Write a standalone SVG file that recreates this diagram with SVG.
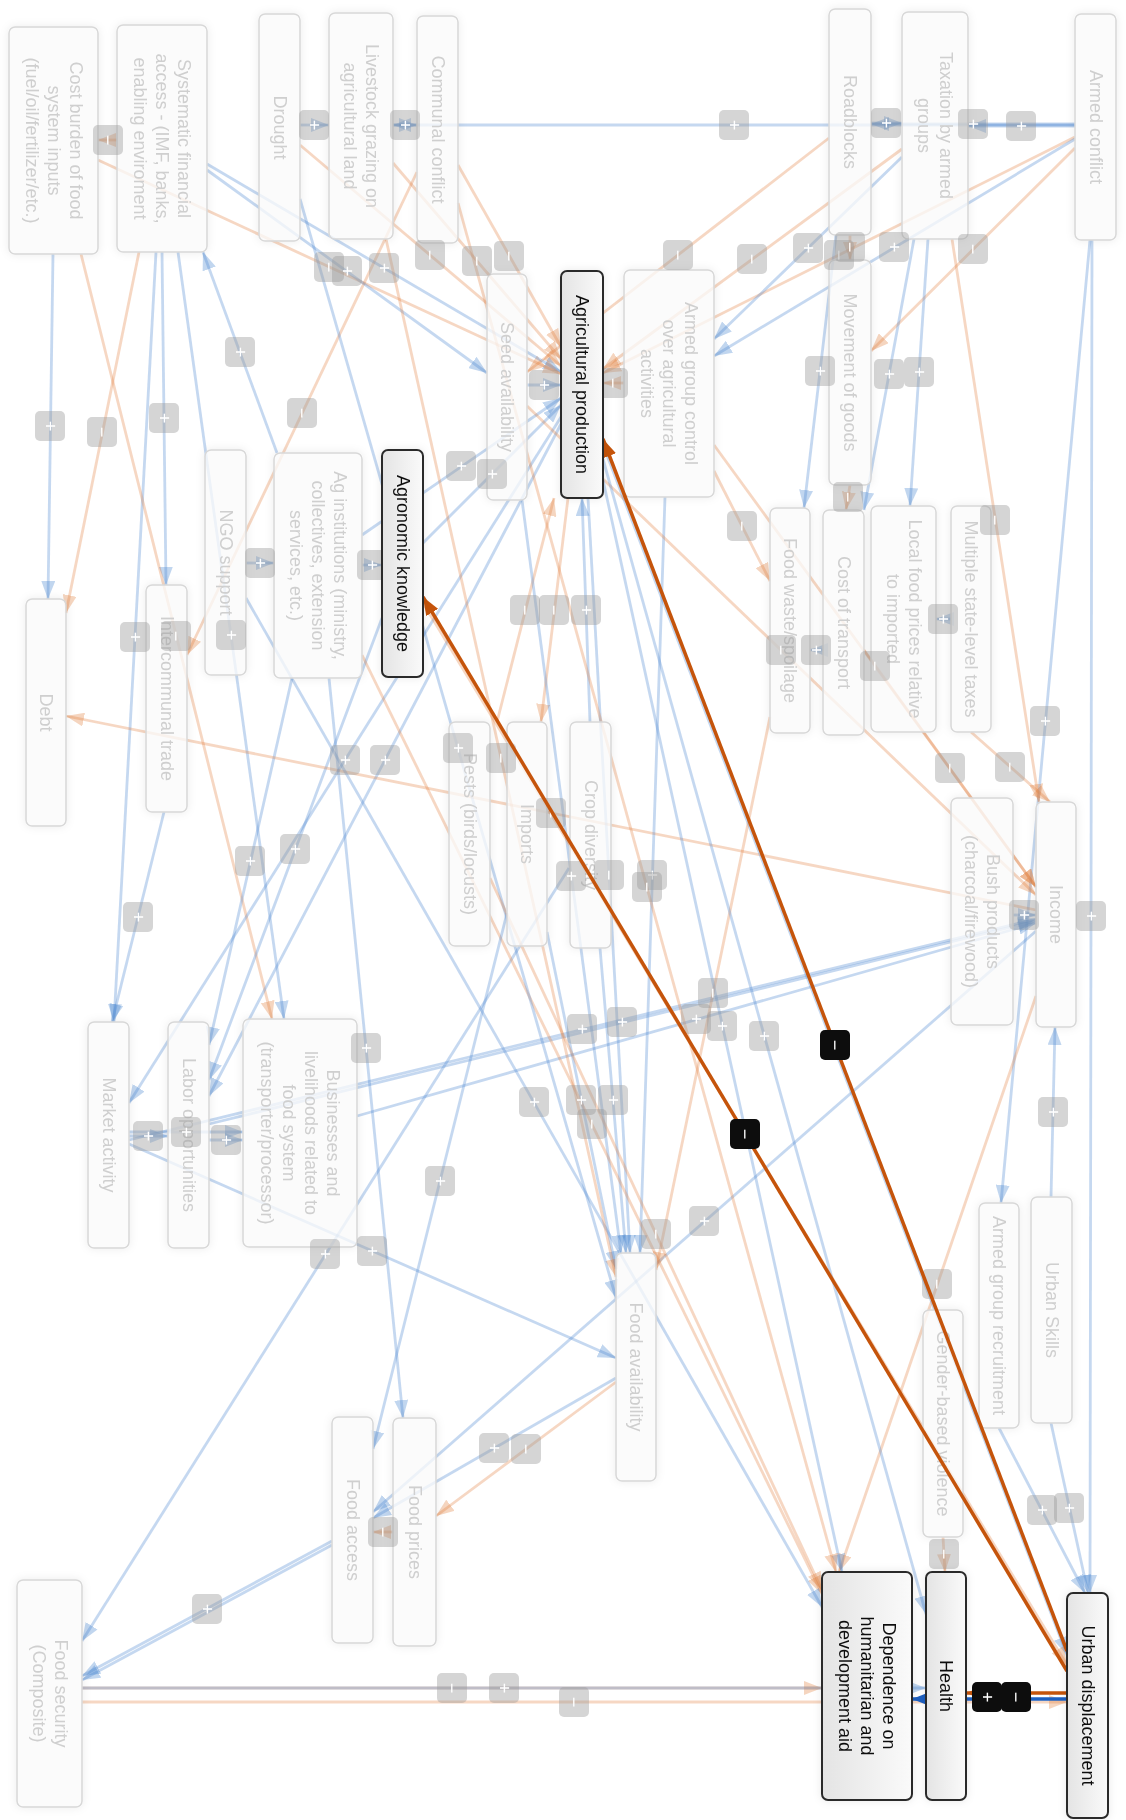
<svg xmlns="http://www.w3.org/2000/svg" width="1126" height="1820" viewBox="0 0 1126 1820">
<defs>
<style>
text{font-family:"Liberation Sans",Arial,sans-serif;font-size:18px;text-anchor:middle}
.n rect{fill:#fcfcfc;fill-opacity:.75;stroke:#d8d8d8;stroke-width:1.5}
.n text{fill:#cfcfcf}
.h rect{fill:url(#hg);stroke:#2b2b2b;stroke-width:2}
.h text{fill:#111}
.e line{fill:none;stroke-width:2.8}
.p{stroke:#4a86d0;stroke-opacity:.32;marker-end:url(#ap)}
.m{stroke:#e07b39;stroke-opacity:.3;marker-end:url(#am)}
.hp{stroke:#1d5fc0;stroke-width:3.5!important;marker-end:url(#hap)}
.hm{stroke:#c5540b;stroke-width:3.5!important;marker-end:url(#ham)}
.lb rect{fill:#9a9a9a;fill-opacity:.42}
.lb text{fill:#fff}
.hl rect{fill:#0d0d0d}
.hl text{fill:#fff}
</style>
<linearGradient id="hg" x1="0" y1="0" x2="1" y2="0">
<stop offset="0" stop-color="#e4e4e4"/><stop offset="1" stop-color="#fafafa"/>
</linearGradient>
<filter id="sh" x="-30%" y="-10%" width="160%" height="120%">
<feDropShadow dx="0" dy="0" stdDeviation="4" flood-color="#000" flood-opacity=".09"/>
</filter>
<marker id="ap" markerUnits="userSpaceOnUse" markerWidth="18" markerHeight="14" viewBox="0 0 18 14" refX="18" refY="7" orient="auto"><path d="M0,0L18,7L0,14z" fill="#4a86d0" fill-opacity=".34"/></marker>
<marker id="am" markerUnits="userSpaceOnUse" markerWidth="18" markerHeight="14" viewBox="0 0 18 14" refX="18" refY="7" orient="auto"><path d="M0,0L18,7L0,14z" fill="#e07b39" fill-opacity=".32"/></marker>
<marker id="hap" markerUnits="userSpaceOnUse" markerWidth="18" markerHeight="14" viewBox="0 0 18 14" refX="18" refY="7" orient="auto"><path d="M0,0L18,7L0,14z" fill="#1d5fc0"/></marker>
<marker id="ham" markerUnits="userSpaceOnUse" markerWidth="18" markerHeight="14" viewBox="0 0 18 14" refX="18" refY="7" orient="auto"><path d="M0,0L18,7L0,14z" fill="#c5540b"/></marker>
</defs>
<rect width="1126" height="1820" fill="#fff"/>

<!-- background causal links -->
<g id="connectors" class="e">
<line class="m" x1="117" y1="140" x2="98" y2="140"/>
<line class="p" x1="300" y1="125" x2="329" y2="125"/>
<line class="p" x1="393" y1="125" x2="417" y2="125"/>
<line class="p" x1="1075" y1="125" x2="393" y2="125"/>
<line class="p" x1="871" y1="123" x2="902" y2="123"/>
<line class="p" x1="1075" y1="124" x2="871" y2="124"/>
<line class="p" x1="1075" y1="126" x2="968" y2="126"/>
<line class="m" x1="300" y1="145" x2="561" y2="366"/>
<line class="m" x1="458" y1="165" x2="561" y2="347"/>
<line class="m" x1="393" y1="163" x2="561" y2="359"/>
<line class="m" x1="624" y1="383" x2="603" y2="383"/>
<line class="p" x1="527" y1="385" x2="561" y2="385"/>
<line class="m" x1="829" y1="138" x2="527" y2="372"/>
<line class="m" x1="902" y1="149" x2="603" y2="369"/>
<line class="m" x1="1075" y1="137" x2="603" y2="373"/>
<line class="p" x1="1075" y1="139" x2="714" y2="356"/>
<line class="p" x1="902" y1="157" x2="714" y2="339"/>
<line class="m" x1="1075" y1="148" x2="871" y2="351"/>
<line class="m" x1="850" y1="235" x2="850" y2="260"/>
<line class="p" x1="836" y1="235" x2="804" y2="508"/>
<line class="p" x1="914" y1="239" x2="864" y2="510"/>
<line class="p" x1="928" y1="239" x2="910" y2="506"/>
<line class="m" x1="850" y1="485" x2="846" y2="510"/>
<line class="p" x1="1092" y1="240" x2="1090" y2="1593"/>
<line class="p" x1="1090" y1="240" x2="1001" y2="1203"/>
<line class="p" x1="1051" y1="1197" x2="1055" y2="1027"/>
<line class="p" x1="1013" y1="915" x2="1036" y2="915"/>
<line class="p" x1="999" y1="1428" x2="1085" y2="1593"/>
<line class="p" x1="1051" y1="1423" x2="1088" y2="1593"/>
<line class="m" x1="943" y1="1537" x2="945" y2="1572"/>
<line class="m" x1="971" y1="732" x2="1050" y2="802"/>
<line class="p" x1="277" y1="453" x2="203" y2="252"/>
<line class="m" x1="417" y1="172" x2="187" y2="655"/>
<line class="p" x1="53" y1="254" x2="48" y2="599"/>
<line class="m" x1="139" y1="252" x2="66" y2="613"/>
<line class="p" x1="156" y1="252" x2="114" y2="1022"/>
<line class="p" x1="162" y1="252" x2="166" y2="585"/>
<line class="m" x1="81" y1="254" x2="272" y2="1019"/>
<line class="p" x1="178" y1="252" x2="284" y2="1019"/>
<line class="p" x1="561" y1="417" x2="129" y2="1103"/>
<line class="p" x1="561" y1="424" x2="209" y2="1096"/>
<line class="p" x1="292" y1="678" x2="209" y2="1045"/>
<line class="p" x1="382" y1="618" x2="209" y2="1080"/>
<line class="p" x1="164" y1="812" x2="112" y2="1022"/>
<line class="p" x1="129" y1="1136" x2="168" y2="1136"/>
<line class="p" x1="129" y1="1132" x2="243" y2="1132"/>
<line class="p" x1="209" y1="1140" x2="243" y2="1140"/>
<line class="p" x1="129" y1="1144" x2="616" y2="1358"/>
<line class="p" x1="246" y1="563" x2="274" y2="563"/>
<line class="p" x1="362" y1="565" x2="382" y2="565"/>
<line class="p" x1="423" y1="543" x2="561" y2="405"/>
<line class="p" x1="362" y1="535" x2="561" y2="398"/>
<line class="p" x1="207" y1="164" x2="561" y2="372"/>
<line class="m" x1="98" y1="160" x2="561" y2="374"/>
<line class="p" x1="207" y1="170" x2="487" y2="373"/>
<line class="m" x1="497" y1="722" x2="554" y2="498"/>
<line class="m" x1="568" y1="498" x2="541" y2="722"/>
<line class="p" x1="590" y1="722" x2="582" y2="498"/>
<line class="m" x1="1036" y1="910" x2="66" y2="716"/>
<line class="m" x1="616" y1="1382" x2="436" y2="1516"/>
<line class="p" x1="616" y1="1378" x2="373" y2="1518"/>
<line class="p" x1="332" y1="1541" x2="82" y2="1676"/>
<line class="p" x1="332" y1="1545" x2="82" y2="1680"/>
<line class="p" x1="569" y1="868" x2="82" y2="1641"/>
<line class="m" x1="82" y1="1688" x2="822" y2="1688"/>
<line class="p" x1="82" y1="1688" x2="926" y2="1688"/>
<line class="m" x1="82" y1="1702" x2="1067" y2="1702"/>
<line class="m" x1="1036" y1="996" x2="839" y2="1572"/>
<line class="p" x1="588" y1="498" x2="630" y2="1253"/>
<line class="p" x1="547" y1="932" x2="616" y2="1269"/>
<line class="p" x1="600" y1="948" x2="626" y2="1253"/>
<line class="m" x1="393" y1="1532" x2="373" y2="1532"/>
<line class="p" x1="1036" y1="931" x2="373" y2="1512"/>
<line class="p" x1="129" y1="1140" x2="1036" y2="919"/>
<line class="p" x1="209" y1="1124" x2="1036" y2="921"/>
<line class="p" x1="357" y1="1116" x2="1036" y2="923"/>
<line class="m" x1="864" y1="650" x2="1036" y2="887"/>
<line class="m" x1="952" y1="239" x2="1039" y2="802"/>
<line class="p" x1="951" y1="619" x2="936" y2="619"/>
<line class="p" x1="823" y1="650" x2="810" y2="650"/>
<line class="p" x1="522" y1="500" x2="621" y2="1253"/>
<line class="p" x1="665" y1="497" x2="640" y2="1253"/>
<line class="m" x1="770" y1="717" x2="656" y2="1270"/>
<line class="m" x1="362" y1="655" x2="822" y2="1594"/>
<line class="p" x1="246" y1="598" x2="822" y2="1607"/>
<line class="p" x1="507" y1="913" x2="373" y2="1449"/>
<line class="p" x1="329" y1="678" x2="403" y2="1418"/>
<line class="m" x1="714" y1="471" x2="770" y2="581"/>
<line class="m" x1="714" y1="445" x2="1036" y2="887"/>
<line class="m" x1="527" y1="406" x2="1036" y2="895"/>
<line class="m" x1="386" y1="239" x2="616" y2="1277"/>
<line class="p" x1="300" y1="199" x2="616" y2="1298"/>
<line class="p" x1="603" y1="480" x2="842" y2="1572"/>
<line class="p" x1="603" y1="459" x2="926" y2="1614"/>
<line class="m" x1="490" y1="878" x2="822" y2="1590"/>
<line class="m" x1="458" y1="203" x2="836" y2="1572"/>
<line class="p" x1="603" y1="445" x2="1067" y2="1655"/>
<line class="m" x1="423" y1="603" x2="1067" y2="1665"/>
</g>

<!-- factor boxes -->
<g id="nodes" filter="url(#sh)">
<g id="n-cost-burden" class="n"><rect x="9" y="27" width="89" height="227" rx="6"/><text transform="translate(53.5 140.5) rotate(90)"><tspan x="0" y="-16">Cost burden of food</tspan><tspan x="0" y="6">system inputs</tspan><tspan x="0" y="28">(fuel/oil/fertilizer/etc.)</tspan></text></g>
<g id="n-financial-access" class="n"><rect x="117" y="25" width="90" height="227" rx="6"/><text transform="translate(162 138.5) rotate(90)"><tspan x="0" y="-16">Systematic financial</tspan><tspan x="0" y="6">access - (IMF, banks,</tspan><tspan x="0" y="28">enabling enviroment</tspan></text></g>
<g id="n-drought" class="n"><rect x="259" y="14" width="41" height="227" rx="6"/><text transform="translate(279.5 127.5) rotate(90)" y="6">Drought</text></g>
<g id="n-livestock" class="n"><rect x="329" y="13" width="64" height="226" rx="6"/><text transform="translate(361 126) rotate(90)"><tspan x="0" y="-5">Livestock grazing on</tspan><tspan x="0" y="17">agricultural land</tspan></text></g>
<g id="n-communal-conflict" class="n"><rect x="417" y="16" width="41" height="227" rx="6"/><text transform="translate(437.5 129.5) rotate(90)" y="6">Communal conflict</text></g>
<g id="n-seed" class="n"><rect x="487" y="274" width="40" height="226" rx="6"/><text transform="translate(507 387) rotate(90)" y="6">Seed availability</text></g>
<g id="n-armed-control" class="n"><rect x="624" y="270" width="90" height="227" rx="6"/><text transform="translate(669 383.5) rotate(90)"><tspan x="0" y="-16">Armed group control</tspan><tspan x="0" y="6">over agricultural</tspan><tspan x="0" y="28">activities</tspan></text></g>
<g id="n-roadblocks" class="n"><rect x="829" y="9" width="42" height="226" rx="6"/><text transform="translate(850 122) rotate(90)" y="6">Roadblocks</text></g>
<g id="n-taxation" class="n"><rect x="902" y="12" width="66" height="227" rx="6"/><text transform="translate(935 125.5) rotate(90)"><tspan x="0" y="-5">Taxation by armed</tspan><tspan x="0" y="17">groups</tspan></text></g>
<g id="n-armed-conflict" class="n"><rect x="1075" y="14" width="41" height="226" rx="6"/><text transform="translate(1095.5 127) rotate(90)" y="6">Armed conflict</text></g>
<g id="n-movement" class="n"><rect x="829" y="260" width="42" height="225" rx="6"/><text transform="translate(850 372.5) rotate(90)" y="6">Movement of goods</text></g>
<g id="n-food-waste" class="n"><rect x="770" y="508" width="40" height="225" rx="6"/><text transform="translate(790 620.5) rotate(90)" y="6">Food waste/spoilage</text></g>
<g id="n-transport" class="n"><rect x="823" y="510" width="41" height="225" rx="6"/><text transform="translate(843.5 622.5) rotate(90)" y="6">Cost of transport</text></g>
<g id="n-local-prices" class="n"><rect x="871" y="506" width="65" height="226" rx="6"/><text transform="translate(903.5 619) rotate(90)"><tspan x="0" y="-5">Local food prices relative</tspan><tspan x="0" y="17">to imported</tspan></text></g>
<g id="n-state-taxes" class="n"><rect x="951" y="506" width="40" height="226" rx="6"/><text transform="translate(971 619) rotate(90)" y="6">Multiple state-level taxes</text></g>
<g id="n-income" class="n"><rect x="1036" y="802" width="40" height="225" rx="6"/><text transform="translate(1056 914.5) rotate(90)" y="6">Income</text></g>
<g id="n-bush" class="n"><rect x="951" y="798" width="62" height="227" rx="6"/><text transform="translate(982 911.5) rotate(90)"><tspan x="0" y="-5">Bush products</tspan><tspan x="0" y="17">(charcoal/firewood)</tspan></text></g>
<g id="n-urban-skills" class="n"><rect x="1031" y="1197" width="41" height="226" rx="6"/><text transform="translate(1051.5 1310) rotate(90)" y="6">Urban Skills</text></g>
<g id="n-recruitment" class="n"><rect x="979" y="1203" width="40" height="225" rx="6"/><text transform="translate(999 1315.5) rotate(90)" y="6">Armed group recruitment</text></g>
<g id="n-gbv" class="n"><rect x="923" y="1310" width="40" height="227" rx="6"/><text transform="translate(943 1423.5) rotate(90)" y="6">Gender-based violence</text></g>
<g id="n-debt" class="n"><rect x="26" y="599" width="40" height="227" rx="6"/><text transform="translate(46 712.5) rotate(90)" y="6">Debt</text></g>
<g id="n-trade" class="n"><rect x="146" y="585" width="41" height="227" rx="6"/><text transform="translate(166.5 698.5) rotate(90)" y="6">Intercommunal trade</text></g>
<g id="n-ngo" class="n"><rect x="205" y="450" width="41" height="225" rx="6"/><text transform="translate(225.5 562.5) rotate(90)" y="6">NGO support</text></g>
<g id="n-ag-inst" class="n"><rect x="274" y="453" width="88" height="225" rx="6"/><text transform="translate(318 565.5) rotate(90)"><tspan x="0" y="-16">Ag institutions (ministry,</tspan><tspan x="0" y="6">collectives, extension</tspan><tspan x="0" y="28">services, etc.)</tspan></text></g>
<g id="n-pests" class="n"><rect x="449" y="722" width="41" height="224" rx="6"/><text transform="translate(469.5 834) rotate(90)" y="6">Pests (birds/locusts)</text></g>
<g id="n-imports" class="n"><rect x="507" y="722" width="40" height="224" rx="6"/><text transform="translate(527 834) rotate(90)" y="6">Imports</text></g>
<g id="n-crop-div" class="n"><rect x="570" y="722" width="41" height="226" rx="6"/><text transform="translate(590.5 835) rotate(90)" y="6">Crop diversity</text></g>
<g id="n-market" class="n"><rect x="88" y="1022" width="41" height="226" rx="6"/><text transform="translate(108.5 1135) rotate(90)" y="6">Market activity</text></g>
<g id="n-labor" class="n"><rect x="168" y="1022" width="41" height="226" rx="6"/><text transform="translate(188.5 1135) rotate(90)" y="6">Labor opportunities</text></g>
<g id="n-businesses" class="n"><rect x="243" y="1019" width="114" height="228" rx="6"/><text transform="translate(300 1133) rotate(90)"><tspan x="0" y="-27">Businesses and</tspan><tspan x="0" y="-5">livelihoods related to</tspan><tspan x="0" y="17">food system</tspan><tspan x="0" y="39">(transporter/processor)</tspan></text></g>
<g id="n-food-avail" class="n"><rect x="616" y="1253" width="40" height="228" rx="6"/><text transform="translate(636 1367) rotate(90)" y="6">Food availability</text></g>
<g id="n-food-access" class="n"><rect x="332" y="1417" width="41" height="226" rx="6"/><text transform="translate(352.5 1530) rotate(90)" y="6">Food access</text></g>
<g id="n-food-prices" class="n"><rect x="393" y="1418" width="43" height="228" rx="6"/><text transform="translate(414.5 1532) rotate(90)" y="6">Food prices</text></g>
<g id="n-food-security" class="n"><rect x="17" y="1580" width="65" height="227" rx="6"/><text transform="translate(49.5 1693.5) rotate(90)"><tspan x="0" y="-5">Food security</tspan><tspan x="0" y="17">(Composite)</tspan></text></g>
</g>

<!-- link polarity badges -->
<g id="edge-labels">
<g class="lb" transform="translate(108 140)"><rect x="-15" y="-15" width="30" height="30" rx="5"/><text transform="rotate(90)" y="6">−</text></g>
<g class="lb" transform="translate(314 125)"><rect x="-15" y="-15" width="30" height="30" rx="5"/><text transform="rotate(90)" y="6">+</text></g>
<g class="lb" transform="translate(405 125)"><rect x="-15" y="-15" width="30" height="30" rx="5"/><text transform="rotate(90)" y="6">+</text></g>
<g class="lb" transform="translate(734 125)"><rect x="-15" y="-15" width="30" height="30" rx="5"/><text transform="rotate(90)" y="6">+</text></g>
<g class="lb" transform="translate(886 123)"><rect x="-15" y="-15" width="30" height="30" rx="5"/><text transform="rotate(90)" y="6">+</text></g>
<g class="lb" transform="translate(973 124)"><rect x="-15" y="-15" width="30" height="30" rx="5"/><text transform="rotate(90)" y="6">+</text></g>
<g class="lb" transform="translate(1021 126)"><rect x="-15" y="-15" width="30" height="30" rx="5"/><text transform="rotate(90)" y="6">+</text></g>
<g class="lb" transform="translate(430 255)"><rect x="-15" y="-15" width="30" height="30" rx="5"/><text transform="rotate(90)" y="6">−</text></g>
<g class="lb" transform="translate(509 256)"><rect x="-15" y="-15" width="30" height="30" rx="5"/><text transform="rotate(90)" y="6">−</text></g>
<g class="lb" transform="translate(477 261)"><rect x="-15" y="-15" width="30" height="30" rx="5"/><text transform="rotate(90)" y="6">−</text></g>
<g class="lb" transform="translate(613 383)"><rect x="-15" y="-15" width="30" height="30" rx="5"/><text transform="rotate(90)" y="6">−</text></g>
<g class="lb" transform="translate(544 385)"><rect x="-15" y="-15" width="30" height="30" rx="5"/><text transform="rotate(90)" y="6">+</text></g>
<g class="lb" transform="translate(678 255)"><rect x="-15" y="-15" width="30" height="30" rx="5"/><text transform="rotate(90)" y="6">−</text></g>
<g class="lb" transform="translate(752 259)"><rect x="-15" y="-15" width="30" height="30" rx="5"/><text transform="rotate(90)" y="6">−</text></g>
<g class="lb" transform="translate(839 255)"><rect x="-15" y="-15" width="30" height="30" rx="5"/><text transform="rotate(90)" y="6">−</text></g>
<g class="lb" transform="translate(894 247)"><rect x="-15" y="-15" width="30" height="30" rx="5"/><text transform="rotate(90)" y="6">+</text></g>
<g class="lb" transform="translate(808 248)"><rect x="-15" y="-15" width="30" height="30" rx="5"/><text transform="rotate(90)" y="6">+</text></g>
<g class="lb" transform="translate(973 249)"><rect x="-15" y="-15" width="30" height="30" rx="5"/><text transform="rotate(90)" y="6">−</text></g>
<g class="lb" transform="translate(850 247)"><rect x="-15" y="-15" width="30" height="30" rx="5"/><text transform="rotate(90)" y="6">−</text></g>
<g class="lb" transform="translate(820 371)"><rect x="-15" y="-15" width="30" height="30" rx="5"/><text transform="rotate(90)" y="6">+</text></g>
<g class="lb" transform="translate(889 374)"><rect x="-15" y="-15" width="30" height="30" rx="5"/><text transform="rotate(90)" y="6">+</text></g>
<g class="lb" transform="translate(919 372)"><rect x="-15" y="-15" width="30" height="30" rx="5"/><text transform="rotate(90)" y="6">+</text></g>
<g class="lb" transform="translate(848 497)"><rect x="-15" y="-15" width="30" height="30" rx="5"/><text transform="rotate(90)" y="6">−</text></g>
<g class="lb" transform="translate(1091 916)"><rect x="-15" y="-15" width="30" height="30" rx="5"/><text transform="rotate(90)" y="6">+</text></g>
<g class="lb" transform="translate(1045 721)"><rect x="-15" y="-15" width="30" height="30" rx="5"/><text transform="rotate(90)" y="6">+</text></g>
<g class="lb" transform="translate(1053 1112)"><rect x="-15" y="-15" width="30" height="30" rx="5"/><text transform="rotate(90)" y="6">+</text></g>
<g class="lb" transform="translate(1024 915)"><rect x="-15" y="-15" width="30" height="30" rx="5"/><text transform="rotate(90)" y="6">+</text></g>
<g class="lb" transform="translate(1042 1510)"><rect x="-15" y="-15" width="30" height="30" rx="5"/><text transform="rotate(90)" y="6">+</text></g>
<g class="lb" transform="translate(1069 1508)"><rect x="-15" y="-15" width="30" height="30" rx="5"/><text transform="rotate(90)" y="6">+</text></g>
<g class="lb" transform="translate(944 1554)"><rect x="-15" y="-15" width="30" height="30" rx="5"/><text transform="rotate(90)" y="6">−</text></g>
<g class="lb" transform="translate(1010 767)"><rect x="-15" y="-15" width="30" height="30" rx="5"/><text transform="rotate(90)" y="6">−</text></g>
<g class="lb" transform="translate(240 352)"><rect x="-15" y="-15" width="30" height="30" rx="5"/><text transform="rotate(90)" y="6">+</text></g>
<g class="lb" transform="translate(302 413)"><rect x="-15" y="-15" width="30" height="30" rx="5"/><text transform="rotate(90)" y="6">−</text></g>
<g class="lb" transform="translate(50 426)"><rect x="-15" y="-15" width="30" height="30" rx="5"/><text transform="rotate(90)" y="6">+</text></g>
<g class="lb" transform="translate(102 432)"><rect x="-15" y="-15" width="30" height="30" rx="5"/><text transform="rotate(90)" y="6">−</text></g>
<g class="lb" transform="translate(135 637)"><rect x="-15" y="-15" width="30" height="30" rx="5"/><text transform="rotate(90)" y="6">+</text></g>
<g class="lb" transform="translate(164 418)"><rect x="-15" y="-15" width="30" height="30" rx="5"/><text transform="rotate(90)" y="6">+</text></g>
<g class="lb" transform="translate(176 636)"><rect x="-15" y="-15" width="30" height="30" rx="5"/><text transform="rotate(90)" y="6">−</text></g>
<g class="lb" transform="translate(231 635)"><rect x="-15" y="-15" width="30" height="30" rx="5"/><text transform="rotate(90)" y="6">+</text></g>
<g class="lb" transform="translate(345 760)"><rect x="-15" y="-15" width="30" height="30" rx="5"/><text transform="rotate(90)" y="6">+</text></g>
<g class="lb" transform="translate(385 760)"><rect x="-15" y="-15" width="30" height="30" rx="5"/><text transform="rotate(90)" y="6">+</text></g>
<g class="lb" transform="translate(250 861)"><rect x="-15" y="-15" width="30" height="30" rx="5"/><text transform="rotate(90)" y="6">+</text></g>
<g class="lb" transform="translate(295 849)"><rect x="-15" y="-15" width="30" height="30" rx="5"/><text transform="rotate(90)" y="6">+</text></g>
<g class="lb" transform="translate(138 917)"><rect x="-15" y="-15" width="30" height="30" rx="5"/><text transform="rotate(90)" y="6">+</text></g>
<g class="lb" transform="translate(148 1136)"><rect x="-15" y="-15" width="30" height="30" rx="5"/><text transform="rotate(90)" y="6">+</text></g>
<g class="lb" transform="translate(186 1132)"><rect x="-15" y="-15" width="30" height="30" rx="5"/><text transform="rotate(90)" y="6">+</text></g>
<g class="lb" transform="translate(226 1140)"><rect x="-15" y="-15" width="30" height="30" rx="5"/><text transform="rotate(90)" y="6">+</text></g>
<g class="lb" transform="translate(372 1251)"><rect x="-15" y="-15" width="30" height="30" rx="5"/><text transform="rotate(90)" y="6">+</text></g>
<g class="lb" transform="translate(260 563)"><rect x="-15" y="-15" width="30" height="30" rx="5"/><text transform="rotate(90)" y="6">+</text></g>
<g class="lb" transform="translate(372 565)"><rect x="-15" y="-15" width="30" height="30" rx="5"/><text transform="rotate(90)" y="6">+</text></g>
<g class="lb" transform="translate(492 474)"><rect x="-15" y="-15" width="30" height="30" rx="5"/><text transform="rotate(90)" y="6">+</text></g>
<g class="lb" transform="translate(461 466)"><rect x="-15" y="-15" width="30" height="30" rx="5"/><text transform="rotate(90)" y="6">+</text></g>
<g class="lb" transform="translate(384 268)"><rect x="-15" y="-15" width="30" height="30" rx="5"/><text transform="rotate(90)" y="6">+</text></g>
<g class="lb" transform="translate(329 267)"><rect x="-15" y="-15" width="30" height="30" rx="5"/><text transform="rotate(90)" y="6">−</text></g>
<g class="lb" transform="translate(347 271)"><rect x="-15" y="-15" width="30" height="30" rx="5"/><text transform="rotate(90)" y="6">+</text></g>
<g class="lb" transform="translate(525 610)"><rect x="-15" y="-15" width="30" height="30" rx="5"/><text transform="rotate(90)" y="6">−</text></g>
<g class="lb" transform="translate(554 610)"><rect x="-15" y="-15" width="30" height="30" rx="5"/><text transform="rotate(90)" y="6">−</text></g>
<g class="lb" transform="translate(586 610)"><rect x="-15" y="-15" width="30" height="30" rx="5"/><text transform="rotate(90)" y="6">+</text></g>
<g class="lb" transform="translate(551 813)"><rect x="-15" y="-15" width="30" height="30" rx="5"/><text transform="rotate(90)" y="6">−</text></g>
<g class="lb" transform="translate(526 1449)"><rect x="-15" y="-15" width="30" height="30" rx="5"/><text transform="rotate(90)" y="6">−</text></g>
<g class="lb" transform="translate(494 1448)"><rect x="-15" y="-15" width="30" height="30" rx="5"/><text transform="rotate(90)" y="6">+</text></g>
<g class="lb" transform="translate(207 1609)"><rect x="-15" y="-15" width="30" height="30" rx="5"/><text transform="rotate(90)" y="6">+</text></g>
<g class="lb" transform="translate(325 1254)"><rect x="-15" y="-15" width="30" height="30" rx="5"/><text transform="rotate(90)" y="6">+</text></g>
<g class="lb" transform="translate(452 1688)"><rect x="-15" y="-15" width="30" height="30" rx="5"/><text transform="rotate(90)" y="6">−</text></g>
<g class="lb" transform="translate(504 1688)"><rect x="-15" y="-15" width="30" height="30" rx="5"/><text transform="rotate(90)" y="6">+</text></g>
<g class="lb" transform="translate(574 1702)"><rect x="-15" y="-15" width="30" height="30" rx="5"/><text transform="rotate(90)" y="6">−</text></g>
<g class="lb" transform="translate(937 1284)"><rect x="-15" y="-15" width="30" height="30" rx="5"/><text transform="rotate(90)" y="6">−</text></g>
<g class="lb" transform="translate(609 875)"><rect x="-15" y="-15" width="30" height="30" rx="5"/><text transform="rotate(90)" y="6">−</text></g>
<g class="lb" transform="translate(581 1100)"><rect x="-15" y="-15" width="30" height="30" rx="5"/><text transform="rotate(90)" y="6">+</text></g>
<g class="lb" transform="translate(613 1100)"><rect x="-15" y="-15" width="30" height="30" rx="5"/><text transform="rotate(90)" y="6">+</text></g>
<g class="lb" transform="translate(383 1532)"><rect x="-15" y="-15" width="30" height="30" rx="5"/><text transform="rotate(90)" y="6">−</text></g>
<g class="lb" transform="translate(704 1221)"><rect x="-15" y="-15" width="30" height="30" rx="5"/><text transform="rotate(90)" y="6">+</text></g>
<g class="lb" transform="translate(582 1029)"><rect x="-15" y="-15" width="30" height="30" rx="5"/><text transform="rotate(90)" y="6">+</text></g>
<g class="lb" transform="translate(622 1022)"><rect x="-15" y="-15" width="30" height="30" rx="5"/><text transform="rotate(90)" y="6">+</text></g>
<g class="lb" transform="translate(696 1019)"><rect x="-15" y="-15" width="30" height="30" rx="5"/><text transform="rotate(90)" y="6">+</text></g>
<g class="lb" transform="translate(950 768)"><rect x="-15" y="-15" width="30" height="30" rx="5"/><text transform="rotate(90)" y="6">−</text></g>
<g class="lb" transform="translate(995 520)"><rect x="-15" y="-15" width="30" height="30" rx="5"/><text transform="rotate(90)" y="6">−</text></g>
<g class="lb" transform="translate(943 619)"><rect x="-15" y="-15" width="30" height="30" rx="5"/><text transform="rotate(90)" y="6">+</text></g>
<g class="lb" transform="translate(816 650)"><rect x="-15" y="-15" width="30" height="30" rx="5"/><text transform="rotate(90)" y="6">+</text></g>
<g class="lb" transform="translate(571 876)"><rect x="-15" y="-15" width="30" height="30" rx="5"/><text transform="rotate(90)" y="6">+</text></g>
<g class="lb" transform="translate(652 875)"><rect x="-15" y="-15" width="30" height="30" rx="5"/><text transform="rotate(90)" y="6">+</text></g>
<g class="lb" transform="translate(713 993)"><rect x="-15" y="-15" width="30" height="30" rx="5"/><text transform="rotate(90)" y="6">−</text></g>
<g class="lb" transform="translate(592 1124)"><rect x="-15" y="-15" width="30" height="30" rx="5"/><text transform="rotate(90)" y="6">−</text></g>
<g class="lb" transform="translate(534 1102)"><rect x="-15" y="-15" width="30" height="30" rx="5"/><text transform="rotate(90)" y="6">+</text></g>
<g class="lb" transform="translate(440 1181)"><rect x="-15" y="-15" width="30" height="30" rx="5"/><text transform="rotate(90)" y="6">+</text></g>
<g class="lb" transform="translate(366 1048)"><rect x="-15" y="-15" width="30" height="30" rx="5"/><text transform="rotate(90)" y="6">+</text></g>
<g class="lb" transform="translate(742 526)"><rect x="-15" y="-15" width="30" height="30" rx="5"/><text transform="rotate(90)" y="6">−</text></g>
<g class="lb" transform="translate(875 666)"><rect x="-15" y="-15" width="30" height="30" rx="5"/><text transform="rotate(90)" y="6">−</text></g>
<g class="lb" transform="translate(781 650)"><rect x="-15" y="-15" width="30" height="30" rx="5"/><text transform="rotate(90)" y="6">−</text></g>
<g class="lb" transform="translate(501 758)"><rect x="-15" y="-15" width="30" height="30" rx="5"/><text transform="rotate(90)" y="6">−</text></g>
<g class="lb" transform="translate(458 748)"><rect x="-15" y="-15" width="30" height="30" rx="5"/><text transform="rotate(90)" y="6">+</text></g>
<g class="lb" transform="translate(722 1026)"><rect x="-15" y="-15" width="30" height="30" rx="5"/><text transform="rotate(90)" y="6">+</text></g>
<g class="lb" transform="translate(764 1036)"><rect x="-15" y="-15" width="30" height="30" rx="5"/><text transform="rotate(90)" y="6">+</text></g>
<g class="lb" transform="translate(656 1234)"><rect x="-15" y="-15" width="30" height="30" rx="5"/><text transform="rotate(90)" y="6">−</text></g>
<g class="lb" transform="translate(647 887)"><rect x="-15" y="-15" width="30" height="30" rx="5"/><text transform="rotate(90)" y="6">−</text></g>
</g>

<!-- selected links from urban displacement -->
<g id="highlight-connectors" class="e">
<line class="hm" x1="1067" y1="1651" x2="603" y2="439"/>
<line class="hm" x1="1067" y1="1671" x2="423" y2="597"/>
<line class="hm" x1="1067" y1="1693" x2="966" y2="1693"/>
<line class="hp" x1="1067" y1="1699" x2="912" y2="1699"/>
</g>
<g id="highlight-labels">
<g class="hl" transform="translate(835 1045)"><rect x="-15" y="-15" width="30" height="30" rx="5"/><text transform="rotate(90)" y="6">−</text></g>
<g class="hl" transform="translate(745 1134)"><rect x="-15" y="-15" width="30" height="30" rx="5"/><text transform="rotate(90)" y="6">−</text></g>
<g class="hl" transform="translate(987 1697)"><rect x="-15" y="-15" width="30" height="30" rx="5"/><text transform="rotate(90)" y="6">+</text></g>
<g class="hl" transform="translate(1016 1697)"><rect x="-15" y="-15" width="30" height="30" rx="5"/><text transform="rotate(90)" y="6">−</text></g>
</g>

<g id="highlight-nodes" filter="url(#sh)">
<g id="n-ag-production" class="h"><rect x="561" y="271" width="42" height="227" rx="6"/><text transform="translate(582 384.5) rotate(90)" y="6">Agricultural production</text></g>
<g id="n-agronomic" class="h"><rect x="382" y="450" width="41" height="227" rx="6"/><text transform="translate(402.5 563.5) rotate(90)" y="6">Agronomic knowledge</text></g>
<g id="n-urban-displacement" class="h"><rect x="1067" y="1593" width="41" height="225" rx="6"/><text transform="translate(1087.5 1705.5) rotate(90)" y="6">Urban displacement</text></g>
<g id="n-health" class="h"><rect x="926" y="1572" width="40" height="228" rx="6"/><text transform="translate(946 1686) rotate(90)" y="6">Health</text></g>
<g id="n-dependence" class="h"><rect x="822" y="1572" width="90" height="228" rx="6"/><text transform="translate(867 1686) rotate(90)"><tspan x="0" y="-16">Dependence on</tspan><tspan x="0" y="6">humanitarian and</tspan><tspan x="0" y="28">development aid</tspan></text></g>
</g>
</svg>
